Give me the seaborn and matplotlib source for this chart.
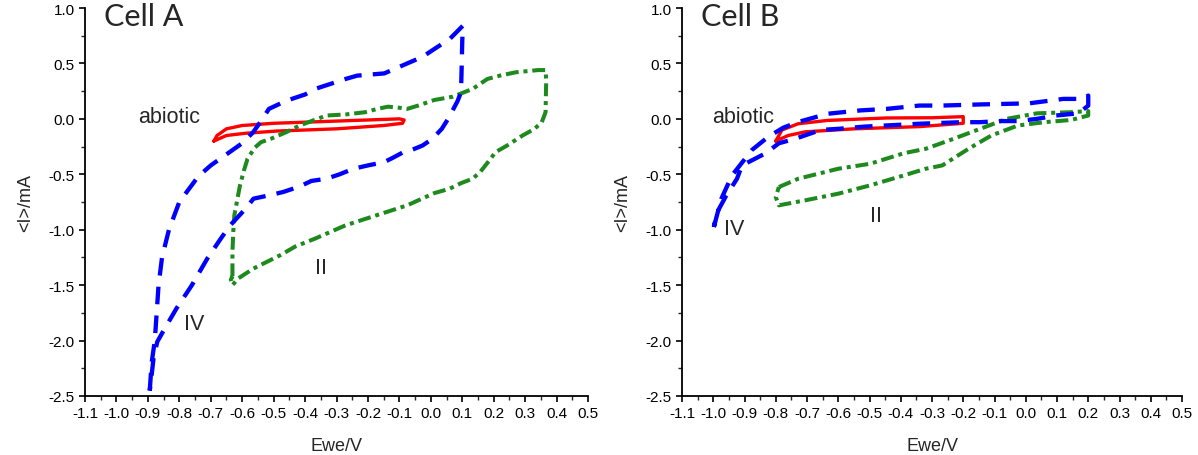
import numpy as np
import pandas as pd
import matplotlib
matplotlib.use("Agg")
import matplotlib.pyplot as plt
import seaborn as sns
from matplotlib.ticker import MultipleLocator

# ---------------- data ----------------
# Cell A
a_abiotic_x = [-0.69, -0.68, -0.65, -0.60, -0.50, -0.40, -0.30, -0.20, -0.10, -0.085,
               -0.09, -0.15, -0.30, -0.49, -0.59, -0.65, -0.69]
a_abiotic_y = [-0.20, -0.15, -0.09, -0.06, -0.04, -0.03, -0.02, -0.01, 0.00, -0.01,
               -0.04, -0.06, -0.09, -0.11, -0.13, -0.15, -0.20]

a_iv_x = [-0.894, -0.888, -0.878, -0.872, -0.866, -0.855, -0.833, -0.800, -0.740, -0.700,
          -0.640, -0.600, -0.565, -0.540, -0.515, -0.470, -0.442, -0.400, -0.368, -0.271,
          -0.234, -0.148, -0.075, -0.026, 0.011, 0.060, 0.102, 0.100, 0.098, 0.096,
          0.085, 0.072, 0.055, 0.035, 0.005, -0.026, -0.060, -0.087, -0.120, -0.148,
          -0.200, -0.246, -0.290, -0.332, -0.380, -0.417, -0.470, -0.515, -0.564, -0.589,
          -0.638, -0.668, -0.711, -0.760, -0.809, -0.846, -0.870, -0.882, -0.888, -0.894]
a_iv_y = [-2.45, -2.20, -2.00, -1.75, -1.50, -1.25, -1.00, -0.75, -0.52, -0.42,
          -0.30, -0.22, -0.12, -0.02, 0.09, 0.15, 0.18, 0.22, 0.27, 0.36,
          0.39, 0.41, 0.50, 0.56, 0.63, 0.72, 0.84, 0.70, 0.45, 0.24,
          0.16, 0.09, 0.00, -0.09, -0.18, -0.24, -0.28, -0.30, -0.35, -0.39,
          -0.42, -0.45, -0.50, -0.54, -0.56, -0.61, -0.66, -0.69, -0.72, -0.81,
          -0.96, -1.08, -1.26, -1.50, -1.71, -1.89, -2.01, -2.16, -2.31, -2.45]

a_ii_x = [-0.631, -0.631, -0.628, -0.625, -0.615, -0.607, -0.595, -0.583, -0.560, -0.540,
          -0.509, -0.460, -0.417, -0.370, -0.332, -0.270, -0.209, -0.170, -0.136, -0.100,
          -0.075, -0.040, 0.011, 0.070, 0.133, 0.180, 0.220, 0.270, 0.341, 0.365,
          0.367, 0.366, 0.365, 0.353, 0.330, 0.292, 0.243, 0.206, 0.182, 0.157,
          0.133, 0.096, 0.060, 0.011, -0.075, -0.173, -0.271, -0.368, -0.430, -0.479,
          -0.564, -0.613, -0.631, -0.636, -0.631]
a_ii_y = [-1.42, -1.20, -1.00, -0.87, -0.72, -0.60, -0.47, -0.36, -0.26, -0.21,
          -0.18, -0.12, -0.06, -0.01, 0.03, 0.04, 0.06, 0.09, 0.11, 0.10,
          0.09, 0.12, 0.17, 0.20, 0.27, 0.36, 0.39, 0.42, 0.44, 0.44,
          0.35, 0.20, 0.06, -0.03, -0.09, -0.15, -0.24, -0.30, -0.39, -0.48,
          -0.54, -0.58, -0.63, -0.67, -0.78, -0.87, -0.96, -1.08, -1.15, -1.23,
          -1.35, -1.44, -1.50, -1.45, -1.42]

# Cell B
b_abiotic_x = [-0.80, -0.78, -0.728, -0.634, -0.445, -0.30, -0.20, -0.20, -0.20,
               -0.34, -0.55, -0.706, -0.76, -0.80]
b_abiotic_y = [-0.20, -0.10, -0.044, -0.014, 0.008, 0.01, 0.02, 0.00, -0.04,
               -0.07, -0.09, -0.117, -0.15, -0.20]

b_iv_x = [-0.998, -0.974, -0.940, -0.876, -0.823, -0.776, -0.728, -0.634, -0.530, -0.445,
          -0.340, -0.267, -0.146, 0.011, 0.120, 0.181, 0.200, 0.200, 0.169, 0.096,
          0.036, -0.025, -0.085, -0.146, -0.207, -0.340, -0.517, -0.600, -0.656, -0.738,
          -0.790, -0.832, -0.908, -0.924, -0.960, -0.987, -0.998]
b_iv_y = [-0.975, -0.72, -0.51, -0.28, -0.16, -0.08, -0.028, 0.046, 0.076, 0.09,
          0.12, 0.12, 0.13, 0.14, 0.18, 0.18, 0.21, 0.12, 0.05, 0.03,
          0.00, -0.02, -0.02, -0.03, -0.03, -0.044, -0.07, -0.09, -0.10, -0.18,
          -0.22, -0.31, -0.42, -0.54, -0.70, -0.84, -0.975]

b_ii_x = [-0.790, -0.728, -0.600, -0.498, -0.390, -0.320, -0.231, -0.146, -0.061, 0.036,
          0.145, 0.200, 0.200, 0.145, 0.060, -0.025, -0.110, -0.183, -0.267, -0.320,
          -0.390, -0.498, -0.600, -0.706, -0.790, -0.800, -0.790]
b_ii_y = [-0.615, -0.54, -0.45, -0.405, -0.31, -0.27, -0.18, -0.09, 0.00, 0.05,
          0.06, 0.07, 0.03, -0.01, -0.03, -0.06, -0.15, -0.27, -0.42, -0.45,
          -0.51, -0.60, -0.675, -0.735, -0.78, -0.705, -0.615]

x_ticks = [-1.1, -1.0, -0.9, -0.8, -0.7, -0.6, -0.5, -0.4, -0.3, -0.2, -0.1,
           0.0, 0.1, 0.2, 0.3, 0.4, 0.5]
y_ticks = [-2.5, -2.0, -1.5, -1.0, -0.5, 0.0, 0.5, 1.0]

# ---------------- styling ----------------
sns.set_theme(style="ticks")
plt.rcParams['font.family'] = ['Liberation Sans', 'DejaVu Sans']

BLUE = '#0000ff'
GREEN = '#1e8a1e'
RED = '#ff0000'

fig = plt.figure(figsize=(11.98, 4.56), dpi=100)
axA = fig.add_axes([85 / 1198, 59 / 456, 503 / 1198, 388 / 456])
axB = fig.add_axes([682 / 1198, 59 / 456, 500 / 1198, 388 / 456])


def draw(ax, abx, aby, ivx, ivy, iix, iiy):
    sns.lineplot(x=abx, y=aby, ax=ax, sort=False, estimator=None, color=RED,
                 lw=2.4, linestyle='-')
    sns.lineplot(x=iix, y=iiy, ax=ax, sort=False, estimator=None, color=GREEN,
                 lw=2.9, linestyle=(0, (3.2, 1.2, 1.0, 1.2)))
    sns.lineplot(x=ivx, y=ivy, ax=ax, sort=False, estimator=None, color=BLUE,
                 lw=3.1, linestyle=(0, (4.1, 2.6)))


draw(axA, a_abiotic_x, a_abiotic_y, a_iv_x, a_iv_y, a_ii_x, a_ii_y)
draw(axB, b_abiotic_x, b_abiotic_y, b_iv_x, b_iv_y, b_ii_x, b_ii_y)

for ax in (axA, axB):
    ax.set_xlim(-1.1, 0.5)
    ax.set_ylim(-2.5, 1.0)
    ax.set_xticks(x_ticks)
    ax.set_yticks(y_ticks)
    ax.set_xticklabels([f"{v:.1f}" for v in x_ticks])
    ax.set_yticklabels([f"{v:.1f}" for v in y_ticks])
    ax.xaxis.set_minor_locator(MultipleLocator(0.05))
    ax.yaxis.set_minor_locator(MultipleLocator(0.25))
    ax.tick_params(axis='both', which='major', direction='out', length=4.5,
                   width=1.2, labelsize=11, colors='black', pad=3)
    ax.tick_params(axis='both', which='minor', direction='out', length=3,
                   width=1.0)
    for s in ('top', 'right'):
        ax.spines[s].set_visible(False)
    for s in ('left', 'bottom'):
        ax.spines[s].set_linewidth(1.3)
        ax.spines[s].set_color('black')
    ax.set_xlabel('Ewe/V', fontsize=13, labelpad=12)
    ax.set_ylabel('<I>/mA', fontsize=13, labelpad=10)
    ax.set_facecolor('white')

# titles / annotations
axA.text(-1.04, 0.93, 'Cell A', fontsize=22, family=['Lato', 'DejaVu Sans'],
         ha='left', va='center')
axB.text(-1.04, 0.93, 'Cell B', fontsize=22, family=['Lato', 'DejaVu Sans'],
         ha='left', va='center')

axA.text(-0.93, 0.02, 'abiotic', fontsize=15.5, ha='left', va='center')
axA.text(-0.35, -1.34, 'II', fontsize=15.5, ha='center', va='center')
axA.text(-0.753, -1.85, 'IV', fontsize=15.5, ha='center', va='center')

axB.text(-1.003, 0.02, 'abiotic', fontsize=15.5, ha='left', va='center')
axB.text(-0.478, -0.875, 'II', fontsize=15.5, ha='center', va='center')
axB.text(-0.933, -0.99, 'IV', fontsize=15.5, ha='center', va='center')

fig.savefig('out.png', dpi=100, facecolor='white')
